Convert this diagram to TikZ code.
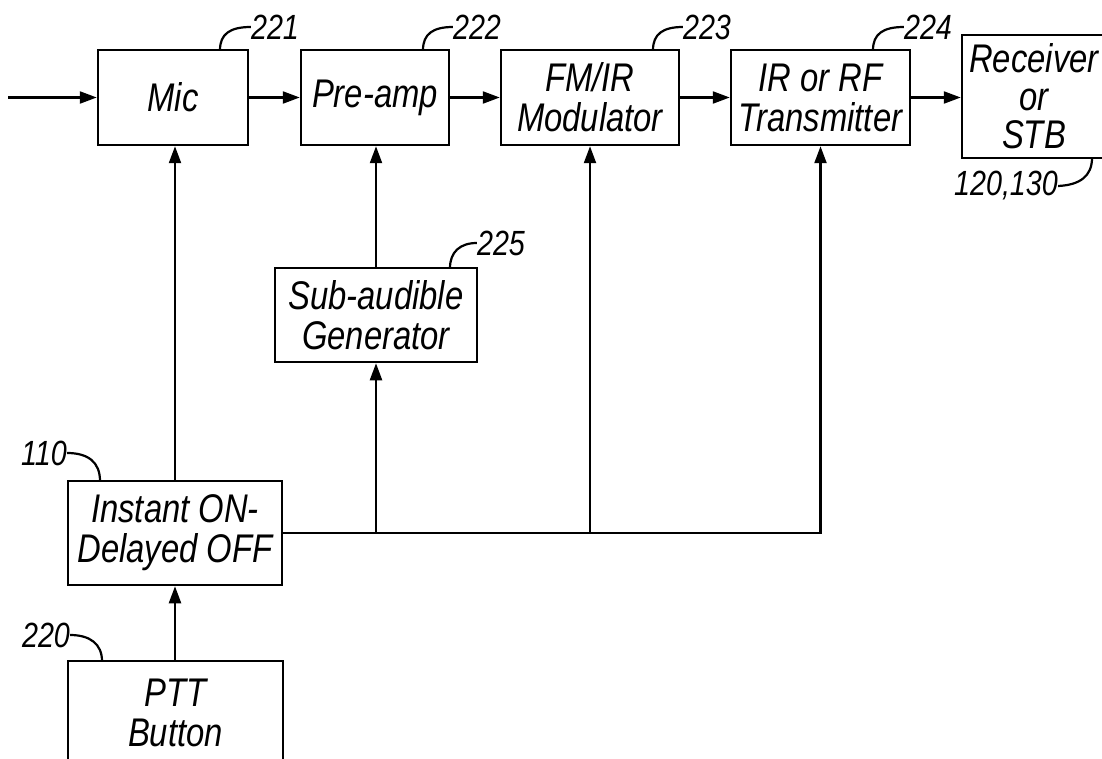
\documentclass[tikz,border=0pt]{standalone}
\usepackage{fontspec}
\newfontfamily\pf[FakeStretch=0.82]{Liberation Sans}
\usetikzlibrary{arrows.meta}
\tikzset{
  blk/.style={draw, line width=2.5pt, inner sep=0pt, align=center,
    font=\pf\itshape\fontsize{40}{40}\selectfont},
  conn/.style={line width=2.3pt},
  arr/.style={conn, -{Triangle[length=17pt,width=12pt]}},
  lead/.style={line width=2.2pt},
  num/.style={inner sep=0pt, font=\pf\itshape\fontsize{35}{36}\selectfont}
}
\begin{document}
\begin{tikzpicture}[x=1pt,y=-1pt]
\useasboundingbox (0,0) rectangle (1102,759);
\clip (0,0) rectangle (1102,759);
\fill[white] (0,0) rectangle (1102,759);
% blocks
\node[blk, minimum width=150pt, minimum height=95pt] (mic) at (173,97.5) {Mic};
\node[blk, minimum width=148pt, minimum height=95pt] (pre) at (375,97.5) {Pre-amp};
\node[blk, minimum width=178pt, minimum height=95pt] (mod) at (590,97.5) {FM/IR\\Modulator};
\node[blk, minimum width=179pt, minimum height=95pt] (trans) at (820.5,97.5) {IR or RF\\Transmitter};
\node[blk, minimum width=144pt, minimum height=123pt, font=\pf\itshape\fontsize{40}{38}\selectfont] (rec) at (1034,96.5) {Receiver\\or\\STB};
\node[blk, minimum width=202pt, minimum height=94pt] (sub) at (376,315) {Sub-audible\\Generator};
\node[blk, minimum width=214pt, minimum height=104pt] (inst) at (175,533) {Instant ON-\\Delayed OFF};
\node[blk, minimum width=215pt, minimum height=104pt] (ptt) at (175.5,713) {PTT\\Button};
% numbers
\node[num] (n221) at (275,27) {221};
\node[num] (n222) at (477,27) {222};
\node[num] (n223) at (707,27) {223};
\node[num] (n224) at (928,27) {224};
\node[num] (n225) at (501,243) {225};
\node[num] (n110) at (44,453) {110};
\node[num] (n220) at (46,635) {220};
\node[num] (n120) at (1006,186) {120,130};
% leaders
\draw[lead] (220,50) .. controls (220,34) and (230,27) .. (n221.west);
\draw[lead] (423,50) .. controls (423,34) and (433,27) .. (n222.west);
\draw[lead] (653,50) .. controls (653,34) and (663,27) .. (n223.west);
\draw[lead] (873,50) .. controls (873,34) and (883,27) .. (n224.west);
\draw[lead] (450,268) .. controls (450,252) and (460,243) .. (n225.west);
\draw[lead] (n110.east) .. controls (88,453) and (100,462) .. (100,481);
\draw[lead] (n220.east) .. controls (90,635) and (102,644) .. (102,661);
\draw[lead] (1092,158) .. controls (1092,176) and (1080,185) .. (n120.east);
% connectors
\coordinate (in) at (8,97.5);
\draw[arr] (in) -- (mic.west);
\draw[arr] (mic.east) -- (pre.west);
\draw[arr] (pre.east) -- (mod.west);
\draw[arr] (mod.east) -- (trans.west);
\draw[arr] (trans.east) -- (trans.east -| rec.west);
\draw[arr] (inst.north) -- (inst.north |- mic.south);
\draw[arr] (sub.north) -- (sub.north |- pre.south);
\draw[arr] (ptt.north -| inst.south) -- (inst.south);
\coordinate (j1) at (sub.south |- inst.east);
\coordinate (j2) at (mod.south |- inst.east);
\coordinate (j3) at (trans.south |- inst.east);
\draw[arr] (inst.east) -- (j3) -- (trans.south);
\draw[arr] (j1) -- (sub.south);
\draw[arr] (j2) -- (mod.south);
\end{tikzpicture}
\end{document}
